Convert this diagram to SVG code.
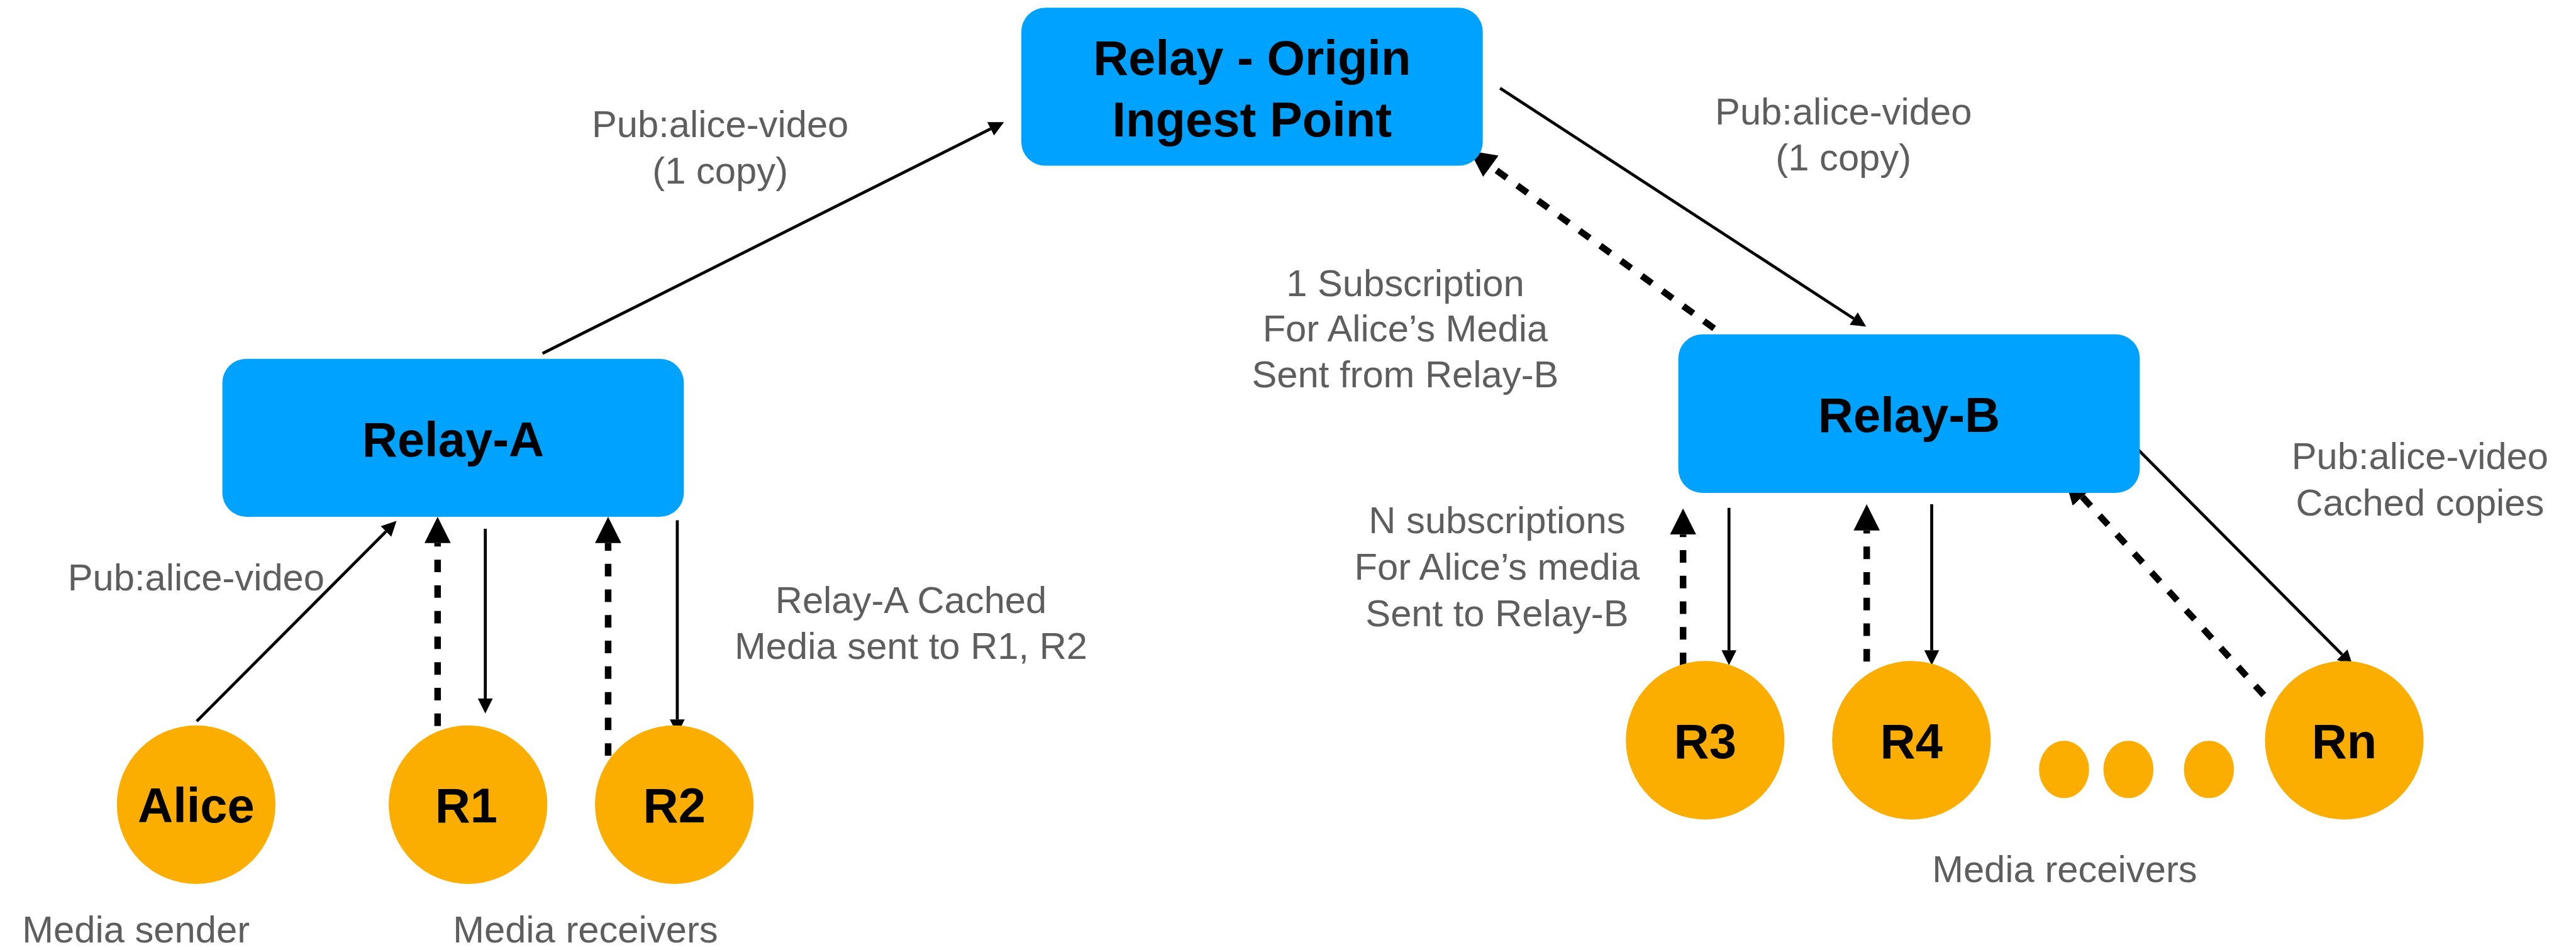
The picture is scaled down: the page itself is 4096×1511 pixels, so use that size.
<svg xmlns="http://www.w3.org/2000/svg" width="4096" height="1511" viewBox="0 0 4096 1511">
<style>
.box{fill:#00A2FF}
.node{fill:#FCAE00}
.lbl{font-family:"Liberation Sans",Arial,Helvetica,sans-serif;font-weight:bold;font-size:82px;fill:#000;text-anchor:middle}
.note{font-family:"Liberation Sans",Arial,Helvetica,sans-serif;font-size:63px;fill:#5E5E5E;text-anchor:middle}
.solid{stroke:#000;stroke-width:5;fill:none;marker-end:url(#hs)}
.dash{stroke:#000;stroke-width:11;fill:none;stroke-dasharray:21 22;marker-end:url(#hd)}
</style>
<defs>
<marker id="hs" markerUnits="userSpaceOnUse" markerWidth="26" markerHeight="26" viewBox="0 -13 26 26" refX="0" refY="0" orient="auto">
<path d="M0,-12.5 L25,0 L0,12.5 Z" fill="#000"/>
</marker>
<marker id="hd" markerUnits="userSpaceOnUse" markerWidth="46" markerHeight="46" viewBox="0 -23 46 46" refX="0" refY="0" orient="auto">
<path d="M0,-22 L44,0 L0,22 Z" fill="#000"/>
</marker>
</defs>
<rect width="4096" height="1511" fill="#fff"/>
<g transform="scale(0.948)">
<g id="connectors">
<line class="solid" x1="910" y1="593" x2="1661.6" y2="216.2"/>
<line class="solid" x1="330" y1="1210" x2="647.4" y2="891.7"/>
<line class="solid" x1="814" y1="887" x2="814" y2="1172"/>
<line class="solid" x1="1136" y1="873" x2="1136" y2="1207"/>
<line class="solid" x1="2516" y1="148" x2="3109.1" y2="534.4"/>
<line class="solid" x1="2900" y1="852" x2="2900" y2="1091"/>
<line class="solid" x1="3240" y1="846" x2="3240" y2="1091"/>
<line class="solid" x1="3571" y1="739" x2="3928.4" y2="1098.3"/>
<line class="dash" x1="734" y1="1218" x2="734" y2="911"/>
<line class="dash" x1="1020" y1="1268" x2="1020" y2="911"/>
<line class="dash" x1="2875" y1="551" x2="2500.6" y2="278.9"/>
<line class="dash" x1="2823" y1="1116" x2="2823" y2="897"/>
<line class="dash" x1="3131" y1="1110" x2="3131" y2="890"/>
<line class="dash" x1="3797" y1="1166" x2="3492.7" y2="833.5"/>
</g>
<g id="origin">
<rect class="box" x="1713" y="13" width="774" height="265" rx="40"/>
<text class="lbl" x="2100" y="125">Relay - Origin</text>
<text class="lbl" x="2100" y="229">Ingest Point</text>
</g>
<g id="relay-a">
<rect class="box" x="373" y="602" width="774" height="265" rx="40"/>
<text class="lbl" x="760" y="766">Relay-A</text>
</g>
<g id="relay-b">
<rect class="box" x="2815" y="561" width="774" height="266" rx="40"/>
<text class="lbl" x="3202" y="725">Relay-B</text>
</g>
<g id="alice">
<circle class="node" cx="329" cy="1350" r="133"/>
<text class="lbl" x="329" y="1380">Alice</text>
</g>
<g id="r1">
<circle class="node" cx="785" cy="1350" r="133"/>
<text class="lbl" x="782" y="1380">R1</text>
</g>
<g id="r2">
<circle class="node" cx="1131" cy="1350" r="133"/>
<text class="lbl" x="1131" y="1380">R2</text>
</g>
<g id="r3">
<circle class="node" cx="2860" cy="1242" r="133"/>
<text class="lbl" x="2860" y="1272">R3</text>
</g>
<g id="r4">
<circle class="node" cx="3206" cy="1242" r="133"/>
<text class="lbl" x="3206" y="1272">R4</text>
</g>
<g id="dots">
<ellipse class="node" cx="3462" cy="1291" rx="42" ry="48"/>
<ellipse class="node" cx="3570" cy="1291" rx="42" ry="48"/>
<ellipse class="node" cx="3705" cy="1291" rx="42" ry="48"/>
</g>
<g id="rn">
<circle class="node" cx="3932" cy="1242" r="133"/>
<text class="lbl" x="3932" y="1272">Rn</text>
</g>
<g id="labels">
<text class="note" x="1208" y="230">Pub:alice-video</text>
<text class="note" x="1208" y="308">(1 copy)</text>
<text class="note" x="3092" y="209">Pub:alice-video</text>
<text class="note" x="3092" y="286">(1 copy)</text>
<text class="note" x="2357" y="497">1 Subscription</text>
<text class="note" x="2357" y="573">For Alice’s Media</text>
<text class="note" x="2357" y="650">Sent from Relay-B</text>
<text class="note" x="329" y="991">Pub:alice-video</text>
<text class="note" x="1528" y="1028">Relay-A Cached</text>
<text class="note" x="1528" y="1105">Media sent to R1, R2</text>
<text class="note" x="228" y="1581">Media sender</text>
<text class="note" x="982" y="1581">Media receivers</text>
<text class="note" x="2511" y="895">N subscriptions</text>
<text class="note" x="2511" y="973">For Alice’s media</text>
<text class="note" x="2511" y="1051">Sent to Relay-B</text>
<text class="note" x="4059" y="787">Pub:alice-video</text>
<text class="note" x="4059" y="865">Cached copies</text>
<text class="note" x="3463" y="1480">Media receivers</text>
</g>
</g>
</svg>
